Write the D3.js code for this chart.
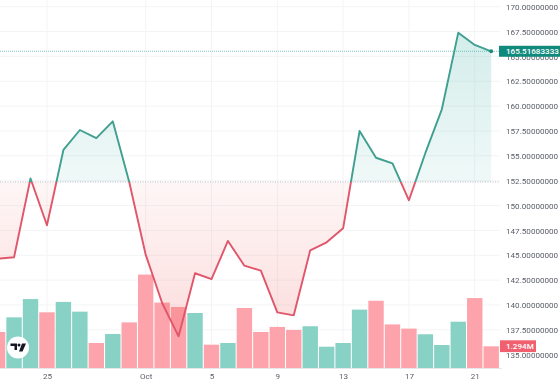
<!DOCTYPE html>
<html>
<head>
<meta charset="utf-8">
<script src="https://cdn.jsdelivr.net/npm/d3@7"></script>
<style>
  html, body { margin: 0; padding: 0; background: #fff; }
  svg { display: block; filter: blur(0.45px); }
  text { font-family: Roboto, sans-serif; }
</style>
</head>
<body>
<svg width="560" height="386"></svg>
<script>
const dates = [
    '2024-09-22', '2024-09-23', '2024-09-24', '2024-09-25', '2024-09-26', '2024-09-27', '2024-09-28',
    '2024-09-29', '2024-09-30', '2024-10-01', '2024-10-02', '2024-10-03', '2024-10-04', '2024-10-05',
    '2024-10-06', '2024-10-07', '2024-10-08', '2024-10-09', '2024-10-10', '2024-10-11', '2024-10-12',
    '2024-10-13', '2024-10-14', '2024-10-15', '2024-10-16', '2024-10-17', '2024-10-18', '2024-10-19',
    '2024-10-20', '2024-10-21', '2024-10-22'
];
const prices = [
    144.66, 144.80, 152.72, 148.02, 155.59, 157.60, 156.79,
    158.47, 152.37, 145.06, 140.20, 136.85, 143.19, 142.61,
    146.44, 143.95, 143.45, 139.26, 138.96, 145.50, 146.30,
    147.71, 157.50, 154.81, 154.25, 150.53, 155.29, 159.68,
    167.39, 166.15, 165.51683333
];
const volumes = [
    2.15, 3.02, 4.11, 3.32, 3.94, 3.36, 1.49,
    2.03, 2.72, 5.57, 3.90, 3.64, 3.28, 1.39,
    1.49, 3.58, 2.15, 2.45, 2.27, 2.49, 1.27,
    1.49, 3.48, 4.01, 2.60, 2.35, 2.01, 1.37,
    2.76, 4.17, 1.294
];
// 1 = up day (green volume bar), 0 = down day
const volumeUp = [
    0, 1, 1, 0, 1, 1, 0,
    1, 0, 0, 0, 0, 1, 0,
    1, 0, 0, 0, 0, 1, 1,
    1, 1, 0, 0, 0, 1, 1,
    1, 0, 0
];
const priceTicks = [170, 167.5, 165, 162.5, 160, 157.5, 155, 152.5, 150, 147.5, 145, 142.5, 140, 137.5, 135];
const timeTicks = ['2024-09-25', '2024-10-01', '2024-10-05', '2024-10-09', '2024-10-13', '2024-10-17', '2024-10-21'];
const timeTickLabels = ['25', 'Oct', '5', '9', '13', '17', '21'];
const basePrice = 152.37;
const lastPrice = 165.51683333;
const lastVolume = 1.294;

const parseDay = d3.utcParse('%Y-%m-%d');
const rows = dates.map((d, i) => ({ date: parseDay(d), price: prices[i], volume: volumes[i], up: volumeUp[i] }));

const plotRight = 500;
const bottom = 368;
const labelSize = 8.1;

const x = d3.scaleUtc().domain([parseDay(dates[0]), parseDay(dates[dates.length - 1])]).range([-2.4, 491.2]);
const y = d3.scaleLinear().domain([170, 135]).range([6.7, 354.7]);
const yVol = d3.scaleLinear().domain([0, 1]).range([bottom, bottom - 16.77]);

const svg = d3.select('svg');
const defs = svg.append('defs');

const addGradient = (id, y1, y2, stops) => {
    const g = defs.append('linearGradient')
        .attr('id', id)
        .attr('gradientUnits', 'userSpaceOnUse')
        .attr('x1', 0).attr('x2', 0)
        .attr('y1', y1).attr('y2', y2);
    stops.forEach(s => g.append('stop').attr('offset', s[0]).attr('stop-color', s[1]).attr('stop-opacity', s[2]));
};
addGradient('upFill', y(167.4), y(basePrice), [[0, '#26a69a', 0.2], [1, '#26a69a', 0.07]]);
addGradient('downFill', y(basePrice), y(136.85), [[0, '#ef5350', 0.05], [1, '#ef5350', 0.2]]);

defs.append('clipPath').attr('id', 'aboveBase').append('rect')
    .attr('x', -10).attr('y', 0).attr('width', 520).attr('height', y(basePrice));
defs.append('clipPath').attr('id', 'belowBase').append('rect')
    .attr('x', -10).attr('y', y(basePrice)).attr('width', 520).attr('height', 386 - y(basePrice));

// grid
svg.append('g').selectAll('line').data(priceTicks).join('line')
    .attr('x1', 0).attr('x2', plotRight)
    .attr('y1', d => y(d)).attr('y2', d => y(d))
    .attr('stroke', '#f3f4f6');
svg.append('g').selectAll('line').data(timeTicks).join('line')
    .attr('x1', d => x(parseDay(d))).attr('x2', d => x(parseDay(d)))
    .attr('y1', 0).attr('y2', bottom)
    .attr('stroke', '#f3f4f6');
svg.append('line')
    .attr('x1', 0).attr('x2', plotRight + 2)
    .attr('y1', bottom + 0.5).attr('y2', bottom + 0.5)
    .attr('stroke', '#e6e7ea');

// volume
svg.append('g').selectAll('rect').data(rows).join('rect')
    .attr('x', d => x(d.date) - 7.7)
    .attr('width', 15.4)
    .attr('y', d => yVol(d.volume))
    .attr('height', d => bottom - yVol(d.volume))
    .attr('fill', d => d.up ? '#87d1c5' : '#fca3ab');

// baseline area
const area = d3.area().x(d => x(d.date)).y0(y(basePrice)).y1(d => y(d.price));
const line = d3.line().x(d => x(d.date)).y(d => y(d.price));

svg.append('path').datum(rows).attr('d', area).attr('fill', 'url(#upFill)').attr('clip-path', 'url(#aboveBase)');
svg.append('path').datum(rows).attr('d', area).attr('fill', 'url(#downFill)').attr('clip-path', 'url(#belowBase)');

// price lines
svg.append('line')
    .attr('x1', 0).attr('x2', plotRight)
    .attr('y1', y(lastPrice)).attr('y2', y(lastPrice))
    .attr('stroke', '#26a69a').attr('stroke-opacity', 0.6).attr('stroke-dasharray', '1 1');
svg.append('line')
    .attr('x1', 0).attr('x2', plotRight)
    .attr('y1', y(basePrice)).attr('y2', y(basePrice))
    .attr('stroke', '#b9bcc4').attr('stroke-dasharray', '1 1.5');

[['aboveBase', '#3f9f90'], ['belowBase', '#e0566b']].forEach(([clip, color]) => {
    svg.append('path').datum(rows)
        .attr('d', line)
        .attr('fill', 'none')
        .attr('stroke', color)
        .attr('stroke-width', 1.9)
        .attr('stroke-linejoin', 'round')
        .attr('clip-path', `url(#${clip})`);
});

svg.append('circle')
    .attr('cx', x(rows[rows.length - 1].date)).attr('cy', y(lastPrice))
    .attr('r', 2).attr('fill', '#1f8a7d');

// axes
const yAxis = svg.append('g')
    .attr('transform', 'translate(506,0)')
    .call(d3.axisRight(y).tickValues(priceTicks).tickSize(0).tickPadding(0).tickFormat(d3.format('.8f')));
yAxis.select('.domain').remove();
yAxis.selectAll('text').attr('font-size', labelSize).attr('fill', '#5a5e68').attr('font-family', 'Roboto, sans-serif');

const xAxis = svg.append('g')
    .attr('transform', `translate(0,${bottom})`)
    .call(d3.axisBottom(x)
        .tickValues(timeTicks.map(parseDay))
        .tickSize(0)
        .tickPadding(5)
        .tickFormat((d, i) => timeTickLabels[i]));
xAxis.select('.domain').remove();
xAxis.selectAll('text').attr('font-size', labelSize).attr('fill', '#5a5e68').attr('font-family', 'Roboto, sans-serif');

// last value labels
const priceTag = svg.append('g').attr('transform', `translate(499,${y(lastPrice)})`);
priceTag.append('rect').attr('x', 0).attr('y', -5.5).attr('width', 61).attr('height', 11).attr('fill', '#0f8a7c');
priceTag.append('text').text(d3.format('.8f')(lastPrice))
    .attr('x', 7).attr('y', 3).attr('font-size', labelSize).attr('font-weight', 500).attr('fill', '#fff');

const volTag = svg.append('g').attr('transform', `translate(500,${yVol(lastVolume)})`);
volTag.append('rect').attr('x', 0).attr('y', -6).attr('width', 36).attr('height', 12).attr('fill', '#f0606f');
volTag.append('text').text(`${lastVolume}M`)
    .attr('x', 6).attr('y', 3).attr('font-size', labelSize).attr('font-weight', 500).attr('fill', '#fff');

// logo
const logo = svg.append('g').attr('transform', 'translate(18,347.5)');
logo.append('circle').attr('r', 11).attr('fill', '#fff');
logo.append('path').attr('d', 'M-7.5 -4H-1V2.5H-3.5V-1.5H-7.5Z M4 -4H8L4.5 4H1Z').attr('fill', '#131722');
logo.append('circle').attr('cx', 1).attr('cy', -2.5).attr('r', 1.5).attr('fill', '#131722');
</script>
</body>
</html>
